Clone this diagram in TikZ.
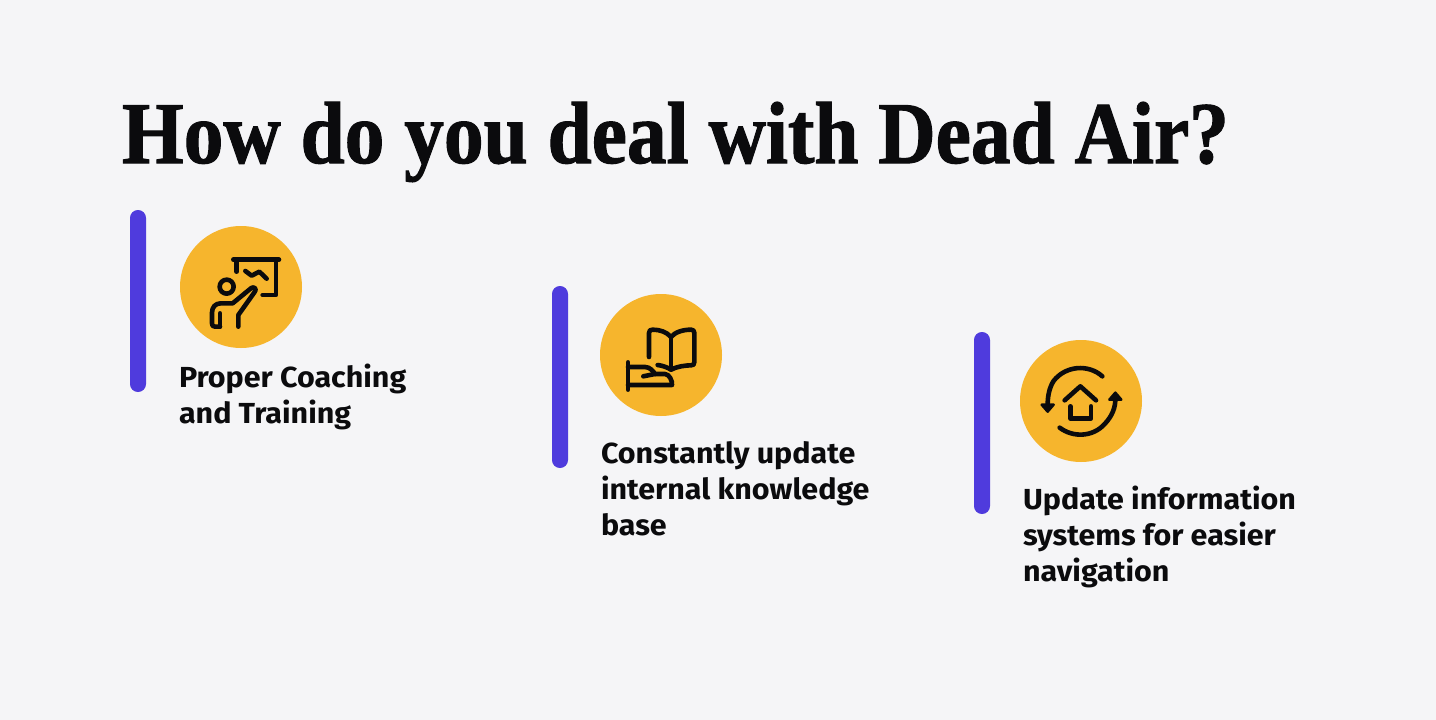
\documentclass[tikz,border=0pt]{standalone}
\usepackage{fontspec}
\setmainfont[FakeStretch=1.05]{Fira Sans}
\newfontfamily\titlefont[FakeStretch=0.902,BoldFeatures={FakeBold=1.2}]{Liberation Serif}
\definecolor{bgc}{HTML}{F5F5F7}
\definecolor{barc}{HTML}{4F3BDD}
\definecolor{circ}{HTML}{F6B52D}
\definecolor{inkc}{HTML}{0B0B0D}
\tikzset{
  vbar/.style={fill=barc,draw=none,rounded corners=7.9pt},
  disc/.style={circle,fill=circ,draw=none,minimum size=122pt,inner sep=0pt},
  lab/.style={anchor=base west,inner sep=0pt,outer sep=0pt,text=inkc,font=\fontsize{29}{36}\selectfont\bfseries},
  ttl/.style={anchor=base west,inner sep=0pt,outer sep=0pt,text=inkc,font=\titlefont\fontsize{88}{88}\selectfont\bfseries},
  ico/.style={draw=inkc,line width=4.6pt,line cap=round,line join=round,fill=none}
}
\begin{document}
\begin{tikzpicture}[x=1pt,y=-1pt]
\useasboundingbox (0,0) rectangle (1436,720);
\fill[bgc] (0,0) rectangle (1436,720);
\node[ttl] (title) at (122,163) {How do you deal with Dead Air?};
\fill[vbar] (130,210) rectangle (146,392);
\fill[vbar] (552,286) rectangle (568,468);
\fill[vbar] (974,332) rectangle (990,514);
\node[disc] (c1) at (241,287) {};
\node[disc] (c2) at (661,355) {};
\node[disc] (c3) at (1081,401) {};
\node[lab] (a1) at (179,387) {Proper Coaching};
\node[lab] (a2) at (179,423) {and Training};
\node[lab] (b1) at (601,463) {Constantly update};
\node[lab] (b2) at (601,499) {internal knowledge};
\node[lab] (b3) at (601,535) {base};
\node[lab] (d1) at (1023,509) {Update information};
\node[lab] (d2) at (1023,545) {systems for easier};
\node[lab] (d3) at (1023,581) {navigation};
% icon 1
\begin{scope}[shift={(170,220)},x=0.3333pt,y=-0.3333pt]
\draw[ico] (190,119) -- (327,119);
\draw[ico] (200,120) -- (200,155);
\draw[ico] (318,120) -- (318,225) -- (278,225);
\draw[ico] (226,153) -- (245,167) -- (268,155) -- (290,176);
\draw[ico] (170,200) circle (21);
\draw[ico] (150,320) -- (135,320) .. controls (128,320) and (126,316) .. (126,310) -- (126,278) .. controls (126,262) and (136,250) .. (152,250) -- (188,250) -- (244,204) .. controls (252,198) and (262,208) .. (254,216) -- (205,285) -- (205,320);
\draw[ico] (150,320) -- (150,280);
\end{scope}
% icon 2
\begin{scope}[shift={(590,288)},x=0.3333pt,y=-0.3333pt]
\draw[ico] (177,207) -- (177,135) .. controls (177,127) and (181,125) .. (188,125) .. controls (210,125) and (230,132) .. (243,147) .. controls (255,132) and (280,125) .. (303,125) .. controls (310,125) and (313,128) .. (313,135) -- (313,222) .. controls (313,230) and (310,232) .. (303,232) .. controls (285,232) and (260,236) .. (243,245) .. controls (232,238) and (218,233) .. (203,231);
\draw[ico] (243,147) -- (243,245);
\draw[ico] (114,223) -- (114,305);
\draw[ico] (114,237) -- (165,237) .. controls (180,237) and (190,250) .. (195,258) -- (225,258) .. controls (238,258) and (248,280) .. (246,291) -- (114,291);
\draw[ico] (195,258) -- (160,265);
\end{scope}
% icon 3
\begin{scope}[shift={(1010,333)},x=0.3333pt,y=-0.3333pt]
\draw[ico] (277,130) .. controls (235,92) and (165,98) .. (130,145) .. controls (118,165) and (112,190) .. (113,225);
\draw[ico,fill=inkc,line width=2.5pt] (95,215) -- (131,215) -- (113,236) -- cycle;
\draw[ico] (149,284) .. controls (190,315) and (250,312) .. (285,272) .. controls (305,250) and (318,225) .. (316,190);
\draw[ico,fill=inkc,line width=2.5pt] (298,200) -- (334,200) -- (316,179) -- cycle;
\draw[ico] (164,202) -- (211,160) -- (258,202);
\draw[ico] (181,220) -- (181,256) -- (243,256) -- (243,220);
\end{scope}
\end{tikzpicture}
\end{document}
